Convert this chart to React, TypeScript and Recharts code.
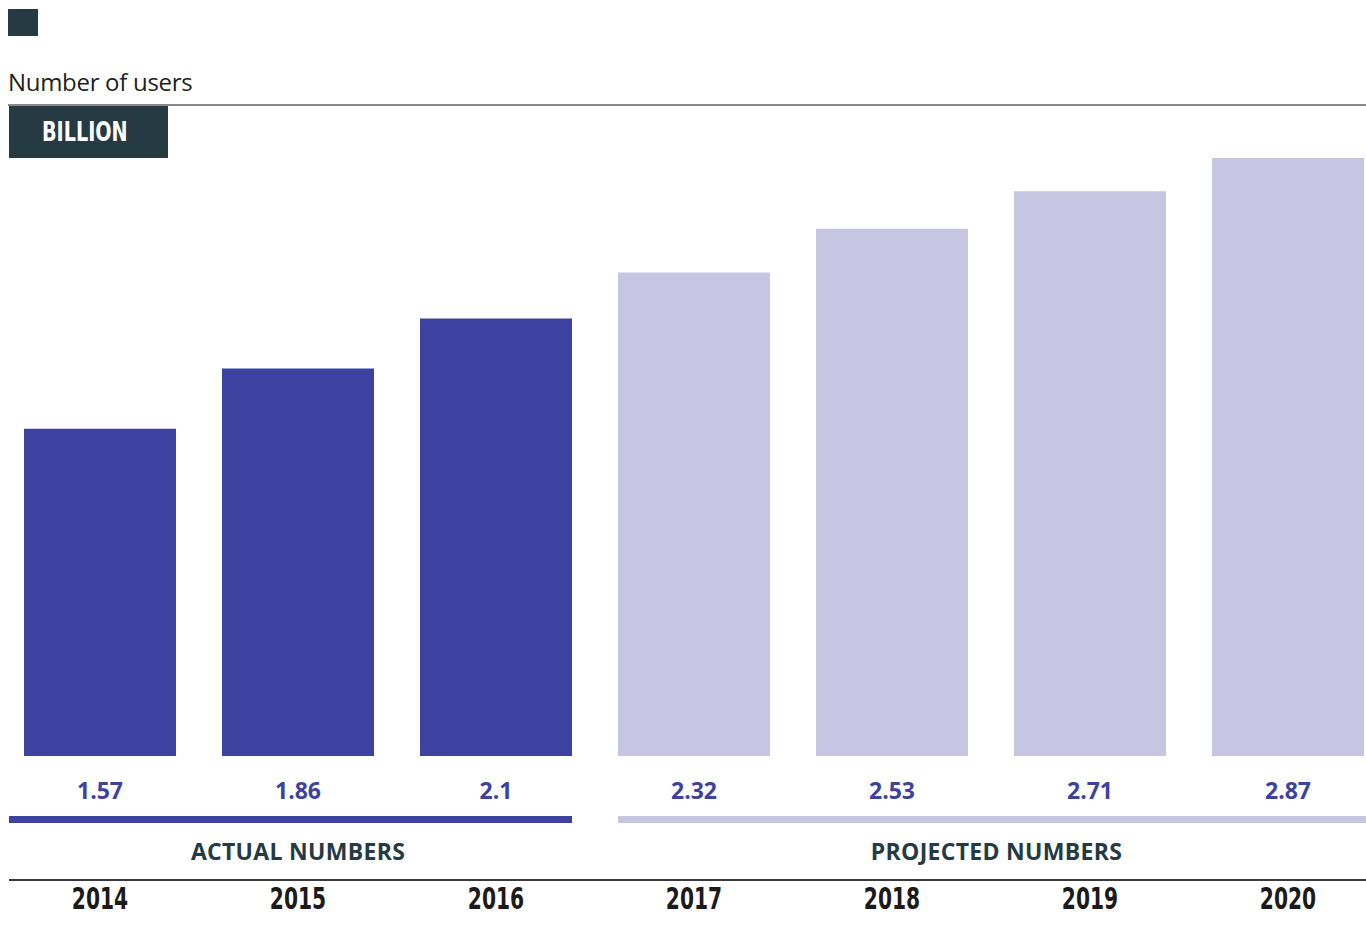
import { BarChart, Bar, XAxis, YAxis, Cell, LabelList } from "recharts";

const years = ["2014", "2015", "2016", "2017", "2018", "2019", "2020"];
const users = [1.57, 1.86, 2.1, 2.32, 2.53, 2.71, 2.87];
const status = ["actual", "actual", "actual", "projected", "projected", "projected", "projected"];
const groupNames: Record<string, string> = {
  actual: "ACTUAL NUMBERS",
  projected: "PROJECTED NUMBERS",
};

const data = years.map((year, i) => ({ year, users: users[i], status: status[i] }));

const CHART_W = 1386;
const CHART_H = 928;
const VIEW_W = 1366;
const BAR = 152;
const STEP = CHART_W / years.length;

const DARK = "#263a44";
const COLORS: Record<string, string> = { actual: "#3d42a0", projected: "#c6c6e2" };
const VALUE_COLOR = "#3d42a0";
const CONDENSED = "'DejaVu Sans Condensed', 'DejaVu Sans', sans-serif";
const SANS = "'Open Sans', 'Noto Sans', sans-serif";

// contiguous runs of the same status -> group rules under the bars
const groups: { key: string; from: number; to: number }[] = [];
status.forEach((s, i) => {
  const last = groups[groups.length - 1];
  if (last && last.key === s) last.to = i;
  else groups.push({ key: s, from: i, to: i });
});

function YearTick(props: any) {
  const { x, y, payload, index } = props;
  const group = groups.find((g) => g.from === index);
  return (
    <g>
      {index === 0 && <rect x={8} y={y + 123} width={VIEW_W - 8} height={2} fill="#3a3a3a" />}
      {group && (() => {
        const isFirst = group.from === 0;
        const isLast = group.to === years.length - 1;
        const left = isFirst ? 8 : x - BAR / 2;
        const right = isLast ? VIEW_W : x + (group.to - group.from) * STEP + BAR / 2;
        // actual label sits on the middle bar, projected label on its rule
        const mid = isLast ? (left + right) / 2 + 4 : x + ((group.to - group.from) * STEP) / 2;
        return (
          <g>
            <rect x={left} y={y + 60} width={right - left} height={7} fill={COLORS[group.key]} />
            <text
              x={mid}
              y={y + 104}
              textAnchor="middle"
              fill={DARK}
              fontFamily={SANS}
              fontWeight={700}
              fontSize={23}
              letterSpacing={0.3}
            >
              {groupNames[group.key]}
            </text>
          </g>
        );
      })()}
      <g transform={`translate(${x} ${y + 153}) scale(0.75 1)`}>
        <text
          x={0}
          y={0}
          textAnchor="middle"
          fill="#1c1a1a"
          fontFamily={CONDENSED}
          fontWeight={700}
          fontSize={30}
        >
          {payload.value}
        </text>
      </g>
    </g>
  );
}

function ValueLabel(props: any) {
  const { x, y, width, height, value } = props;
  return (
    <text
      x={x + width / 2}
      y={y + height + 43}
      textAnchor="middle"
      fill={VALUE_COLOR}
      fontFamily={SANS}
      fontWeight={700}
      fontSize={23}
    >
      {String(value)}
    </text>
  );
}

export default function App() {
  return (
    <div
      style={{
        position: "absolute",
        left: 0,
        top: 0,
        width: VIEW_W,
        height: CHART_H,
        overflow: "hidden",
        background: "#fff",
      }}
    >
      <div style={{ position: "absolute", left: 8, top: 9, width: 30, height: 27, background: DARK }} />
      <div
        style={{
          position: "absolute",
          left: 8,
          top: 67,
          fontFamily: SANS,
          fontSize: 24,
          color: "#231f20",
          letterSpacing: -0.3,
          lineHeight: "30px",
        }}
      >
        Number of users
      </div>
      <div style={{ position: "absolute", left: 8, top: 104, width: VIEW_W - 8, height: 2, background: "#8a8a8a" }} />
      <div
        style={{
          position: "absolute",
          left: 9,
          top: 106,
          width: 159,
          height: 52,
          background: DARK,
        }}
      >
        <div
          style={{
            position: "absolute",
            left: 33,
            top: 0,
            color: "#fff",
            fontFamily: CONDENSED,
            fontWeight: 700,
            fontSize: 26,
            lineHeight: "52px",
            whiteSpace: "nowrap",
            transform: "scaleX(0.82)",
            transformOrigin: "left center",
          }}
        >
          BILLION
        </div>
      </div>
      <div style={{ position: "absolute", left: 1, top: 0 }}>
        <BarChart
          width={CHART_W}
          height={CHART_H}
          data={data}
          margin={{ top: 158, right: 0, bottom: 0, left: 0 }}
        >
          <XAxis
            dataKey="year"
            height={172}
            axisLine={false}
            tickLine={false}
            tickSize={0}
            tickMargin={0}
            interval={0}
            tick={<YearTick />}
          />
          <YAxis hide domain={[0, "dataMax"]} />
          <Bar dataKey="users" barSize={BAR} isAnimationActive={false}>
            {data.map((d, i) => (
              <Cell key={i} fill={COLORS[d.status]} />
            ))}
            <LabelList dataKey="users" content={<ValueLabel />} />
          </Bar>
        </BarChart>
      </div>
    </div>
  );
}
